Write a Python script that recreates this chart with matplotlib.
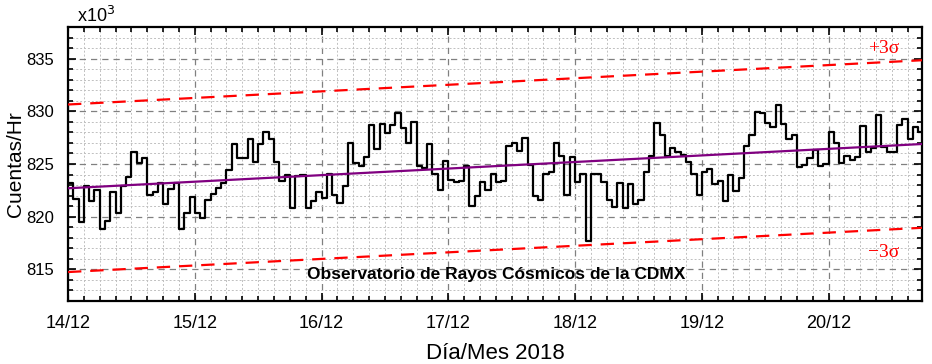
import matplotlib
matplotlib.use("Agg")
from matplotlib import pyplot as plt
from matplotlib.ticker import MultipleLocator
import numpy as np

plt.rcParams['font.family'] = ['Liberation Sans Narrow', 'Liberation Sans', 'DejaVu Sans']

# conteos por hora (x10^3), desde 14/12 00:00
cuentas = [
    823.2, 821.7, 819.5, 822.9, 821.5, 822.5, 818.8, 819.6, 822.3, 820.4,
    822.9, 823.8, 826.1, 825.1, 825.6, 822.1, 822.3, 823.2, 821.2, 822.6,
    823.2, 818.8, 820.4, 821.9, 820.4, 819.9, 821.6, 822.2, 822.7, 823.2,
    824.4, 826.9, 825.6, 825.6, 827.4, 825.2, 826.9, 828.0, 827.4, 825.2,
    823.4, 824.0, 820.8, 823.9, 824.0, 820.8, 821.5, 822.3, 821.8, 824.1,
    822.1, 821.3, 822.9, 827.0, 825.1, 824.8, 825.7, 828.7, 826.4, 828.8,
    827.9, 828.7, 829.8, 828.4, 827.0, 829.0, 824.8, 824.6, 826.9, 824.1,
    822.5, 825.3, 823.5, 823.3, 823.4, 824.8, 821.0, 822.0, 823.3, 822.5,
    824.1, 823.3, 823.4, 826.7, 827.0, 826.2, 827.5, 824.9, 822.0, 821.6,
    824.1, 824.2, 827.0, 825.8, 822.1, 825.7, 823.3, 824.1, 817.7, 824.1,
    824.1, 823.3, 821.6, 820.9, 823.2, 820.8, 823.1, 821.2, 821.6, 824.2,
    825.8, 828.9, 827.8, 825.8, 826.5, 826.1, 825.9, 825.2, 824.1, 822.1,
    824.2, 824.5, 823.1, 823.4, 821.5, 824.0, 822.4, 823.7, 826.7, 827.8,
    829.9, 829.8, 828.9, 828.5, 830.6, 828.8, 827.4, 827.8, 824.7, 824.9,
    825.6, 826.3, 824.8, 825.0, 828.0, 827.0, 825.1, 825.8, 825.4, 825.7,
    828.6, 826.1, 826.5, 829.7, 826.6, 826.1, 826.1, 828.7, 829.3, 827.4,
    828.5, 828.0,
]
dias = ['14/12', '15/12', '16/12', '17/12', '18/12', '19/12', '20/12']

# ajuste lineal y banda de 3 sigma
ajuste_ini = 822.7
ajuste_fin = 826.9
tres_sigma = 7.95

horas = np.arange(len(cuentas))
x_fin = 161.7

fig = plt.figure(figsize=(9.32, 3.64), dpi=100)
ax = fig.add_axes([0.073, 0.173, 0.9163, 0.7527])

# serie escalonada
xs = np.append(horas, x_fin)
ys = np.append(cuentas, cuentas[-1])
ax.step(xs, ys, where='post', color='black', lw=1.6, zorder=4)

# tendencia y +-3 sigma
xt = np.array([0, x_fin])
yt = np.array([ajuste_ini, ajuste_fin])
ax.plot(xt, yt, color='#800080', lw=1.6, zorder=5)
ax.plot(xt, yt + tres_sigma, color='red', lw=1.6, ls=(0, (6, 4)), zorder=3)
ax.plot(xt, yt - tres_sigma, color='red', lw=1.6, ls=(0, (6, 4)), zorder=3)

ax.text(154.5, 836.0, '+3\u03c3', color='red', fontsize=14, family='Liberation Serif', ha='center', va='center')
ax.text(154.5, 816.6, '\u22123\u03c3', color='red', fontsize=14, family='Liberation Serif', ha='center', va='center')
ax.text(81, 814.5, 'Observatorio de Rayos Cósmicos de la CDMX', fontsize=12.5, fontweight='bold',
        family='Liberation Sans', ha='center', va='center')

ax.set_xlim(0, x_fin)
ax.set_ylim(812, 838)

ax.set_xticks(np.arange(len(dias)) * 24)
ax.set_xticklabels(dias)
ax.xaxis.set_minor_locator(MultipleLocator(3))
ax.yaxis.set_major_locator(MultipleLocator(5))
ax.yaxis.set_minor_locator(MultipleLocator(1))

ax.grid(which='major', color='#808080', ls=(0, (5, 4)), lw=0.9)
ax.grid(which='minor', color='#c0c0c0', ls=(0, (2, 2)), lw=0.7)
ax.set_axisbelow(True)

ax.tick_params(which='both', direction='in', top=True, right=True, width=1.2)
ax.tick_params(which='major', length=6, pad=10)
ax.tick_params(axis='x', labelsize=13)
ax.tick_params(axis='y', labelsize=12)
ax.tick_params(which='minor', length=3.5)
for s in ax.spines.values():
    s.set_linewidth(1.6)

ax.set_ylabel('Cuentas/Hr', fontsize=15, family='Liberation Sans')
ax.yaxis.set_label_coords(-0.050, 0.5)
ax.set_xlabel('Día/Mes 2018', fontsize=16, labelpad=8)
fig.text(0.083, 0.955, r'x10$^3$', fontsize=13, va='center')

plt.savefig('out.png', dpi=100)
